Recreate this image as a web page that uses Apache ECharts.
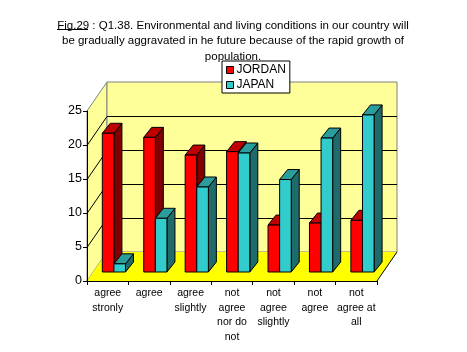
<!DOCTYPE html>
<html>
<head>
<meta charset="utf-8">
<script src="https://cdn.jsdelivr.net/npm/echarts@6/dist/echarts.min.js"></script>
<style>
  html, body { margin: 0; padding: 0; background: #fff; }
  #chart { width: 467px; height: 352px; }
</style>
</head>
<body>
<div id="chart"></div>
<script>
const categories = ['agree\nstronly', 'agree', 'agree\nslightly', 'not\nagree\nnor do\nnot', 'not\nagree\nslightly', 'not\nagree', 'not\nagree at\nall']
const jordan = [20.4, 19.8, 17.2, 17.7, 6.9, 7.2, 7.6]
const japan = [1.2, 7.9, 12.5, 17.5, 13.6, 19.7, 23.1]
const yTicks = [0, 5, 10, 15, 20, 25]

// depth of the box (back wall offset) and of each bar
const DX = 20
const DY = -29
const BX = 8
const BY = -10
const FONT = 'Liberation Sans'

function renderFrame(params, api) {
  const cs = params.coordSys
  const x0 = cs.x
  const x1 = cs.x + cs.width
  const yt = cs.y
  const yb = cs.y + cs.height
  const children = []
  // left wall
  children.push({
    type: 'polygon',
    shape: { points: [[x0, yb], [x0 + DX, yb + DY], [x0 + DX, yt + DY], [x0, yt]] },
    style: { fill: '#ffff99', stroke: '#808080', lineWidth: 1 }
  })
  // back wall
  children.push({
    type: 'rect',
    shape: { x: x0 + DX, y: yt + DY, width: cs.width, height: cs.height },
    style: { fill: '#ffff99', stroke: '#808080', lineWidth: 1 }
  })
  // floor
  children.push({
    type: 'polygon',
    shape: { points: [[x0, yb], [x1, yb], [x1 + DX, yb + DY], [x0 + DX, yb + DY]] },
    style: { fill: '#ffff00', stroke: null }
  })
  children.push({
    type: 'line',
    shape: { x1: x1, y1: yb, x2: x1 + DX, y2: yb + DY },
    style: { stroke: '#000', lineWidth: 1 }
  })
  // grid lines on left + back walls
  yTicks.forEach(v => {
    if (v === 0 || v === 25) return
    const y = Math.round(api.coord([0, v])[1]) + 0.5
    children.push({
      type: 'polyline',
      shape: { points: [[x0, y], [x0 + DX, y + DY], [x1 + DX, y + DY]] },
      style: { stroke: '#000', fill: null, lineWidth: 1 }
    })
  })
  return { type: 'group', children }
}

function makeBar(side, c) {
  return function (params, api) {
    const cat = api.value(0)
    const v = api.value(1)
    const top = api.coord([cat, v])
    const base = api.coord([cat, 0])
    const band = api.size([1, 0])[0]
    const w = band * 0.28
    const sx = DX * 0.31
    const sy = DY * 0.31
    const x0 = top[0] + sx + side * w
    const x1 = x0 + w
    const yT = top[1] + sy
    const yB = base[1] + sy
    const st = { stroke: '#000', lineWidth: 1 }
    return {
      type: 'group',
      children: [
        {
          type: 'polygon',
          shape: { points: [[x1, yT], [x1 + BX, yT + BY], [x1 + BX, yB + BY], [x1, yB]] },
          style: Object.assign({ fill: c.side }, st)
        },
        {
          type: 'polygon',
          shape: { points: [[x0, yT], [x0 + BX, yT + BY], [x1 + BX, yT + BY], [x1, yT]] },
          style: Object.assign({ fill: c.top }, st)
        },
        {
          type: 'rect',
          shape: { x: x0, y: yT, width: w, height: yB - yT },
          style: Object.assign({ fill: c.front }, st)
        }
      ]
    }
  }
}

const chart = echarts.init(document.getElementById('chart'))

const option = {
  animation: false,
  textStyle: { fontFamily: FONT, color: '#000' },
  title: {
    text: '{u|Fig.29} : Q1.38. Environmental and living conditions in our country will\nbe gradually aggravated in he future because of the rapid growth of\npopulation.',
    left: 233,
    top: 18,
    textAlign: 'center',
    padding: 0,
    textStyle: {
      fontFamily: FONT,
      fontSize: 11.5,
      fontWeight: 'normal',
      color: '#000',
      lineHeight: 15.5,
      rich: { u: { fontFamily: FONT, fontSize: 11.5, color: '#000', lineHeight: 15.5 } }
    }
  },
  legend: {
    data: ['JORDAN', 'JAPAN'],
    orient: 'vertical',
    left: 222,
    top: 61,
    backgroundColor: '#fff',
    borderColor: '#000',
    borderWidth: 1,
    borderRadius: 0,
    padding: [3, 4, 2, 4],
    itemWidth: 7,
    itemHeight: 7,
    itemGap: 3,
    icon: 'rect',
    itemStyle: { borderColor: '#000', borderWidth: 1 },
    textStyle: { fontFamily: FONT, fontSize: 12, color: '#000', padding: [0, 0, 0, -2] }
  },
  grid: { left: 87, top: 111, width: 290, height: 170 },
  xAxis: {
    type: 'category',
    data: categories,
    axisLine: { lineStyle: { color: '#000', width: 1 } },
    axisTick: { show: true, length: 4, lineStyle: { color: '#000' } },
    axisLabel: { interval: 0, fontFamily: FONT, fontSize: 10.5, lineHeight: 14.5, color: '#000', margin: 5 },
    splitLine: { show: false },
    z: 5
  },
  yAxis: {
    type: 'value',
    min: 0,
    max: 25,
    interval: 5,
    axisLine: { show: true, lineStyle: { color: '#000', width: 1 } },
    axisTick: { show: true, length: 4, lineStyle: { color: '#000' } },
    axisLabel: { fontFamily: FONT, fontSize: 12.5, color: '#000', margin: 5 },
    splitLine: { show: false },
    z: 5
  },
  graphic: [
    { type: 'line', shape: { x1: 57, y1: 29.5, x2: 88, y2: 29.5 }, style: { stroke: '#000', lineWidth: 1 } }
  ],
  series: [
    {
      name: 'frame',
      type: 'custom',
      silent: true,
      z: 1,
      data: [[0, 0]],
      renderItem: renderFrame
    },
    {
      name: 'JORDAN',
      type: 'custom',
      z: 2,
      itemStyle: { color: '#ff0000' },
      encode: { x: 0, y: 1 },
      data: jordan.map((v, i) => [i, v]),
      renderItem: makeBar(-1, { front: '#ff0000', side: '#800000', top: '#c00000' })
    },
    {
      name: 'JAPAN',
      type: 'custom',
      z: 3,
      itemStyle: { color: '#33cccc' },
      encode: { x: 0, y: 1 },
      data: japan.map((v, i) => [i, v]),
      renderItem: makeBar(0, { front: '#33cccc', side: '#1f6b6b', top: '#2a9d9d' })
    }
  ]
}

chart.setOption(option)
</script>
</body>
</html>
